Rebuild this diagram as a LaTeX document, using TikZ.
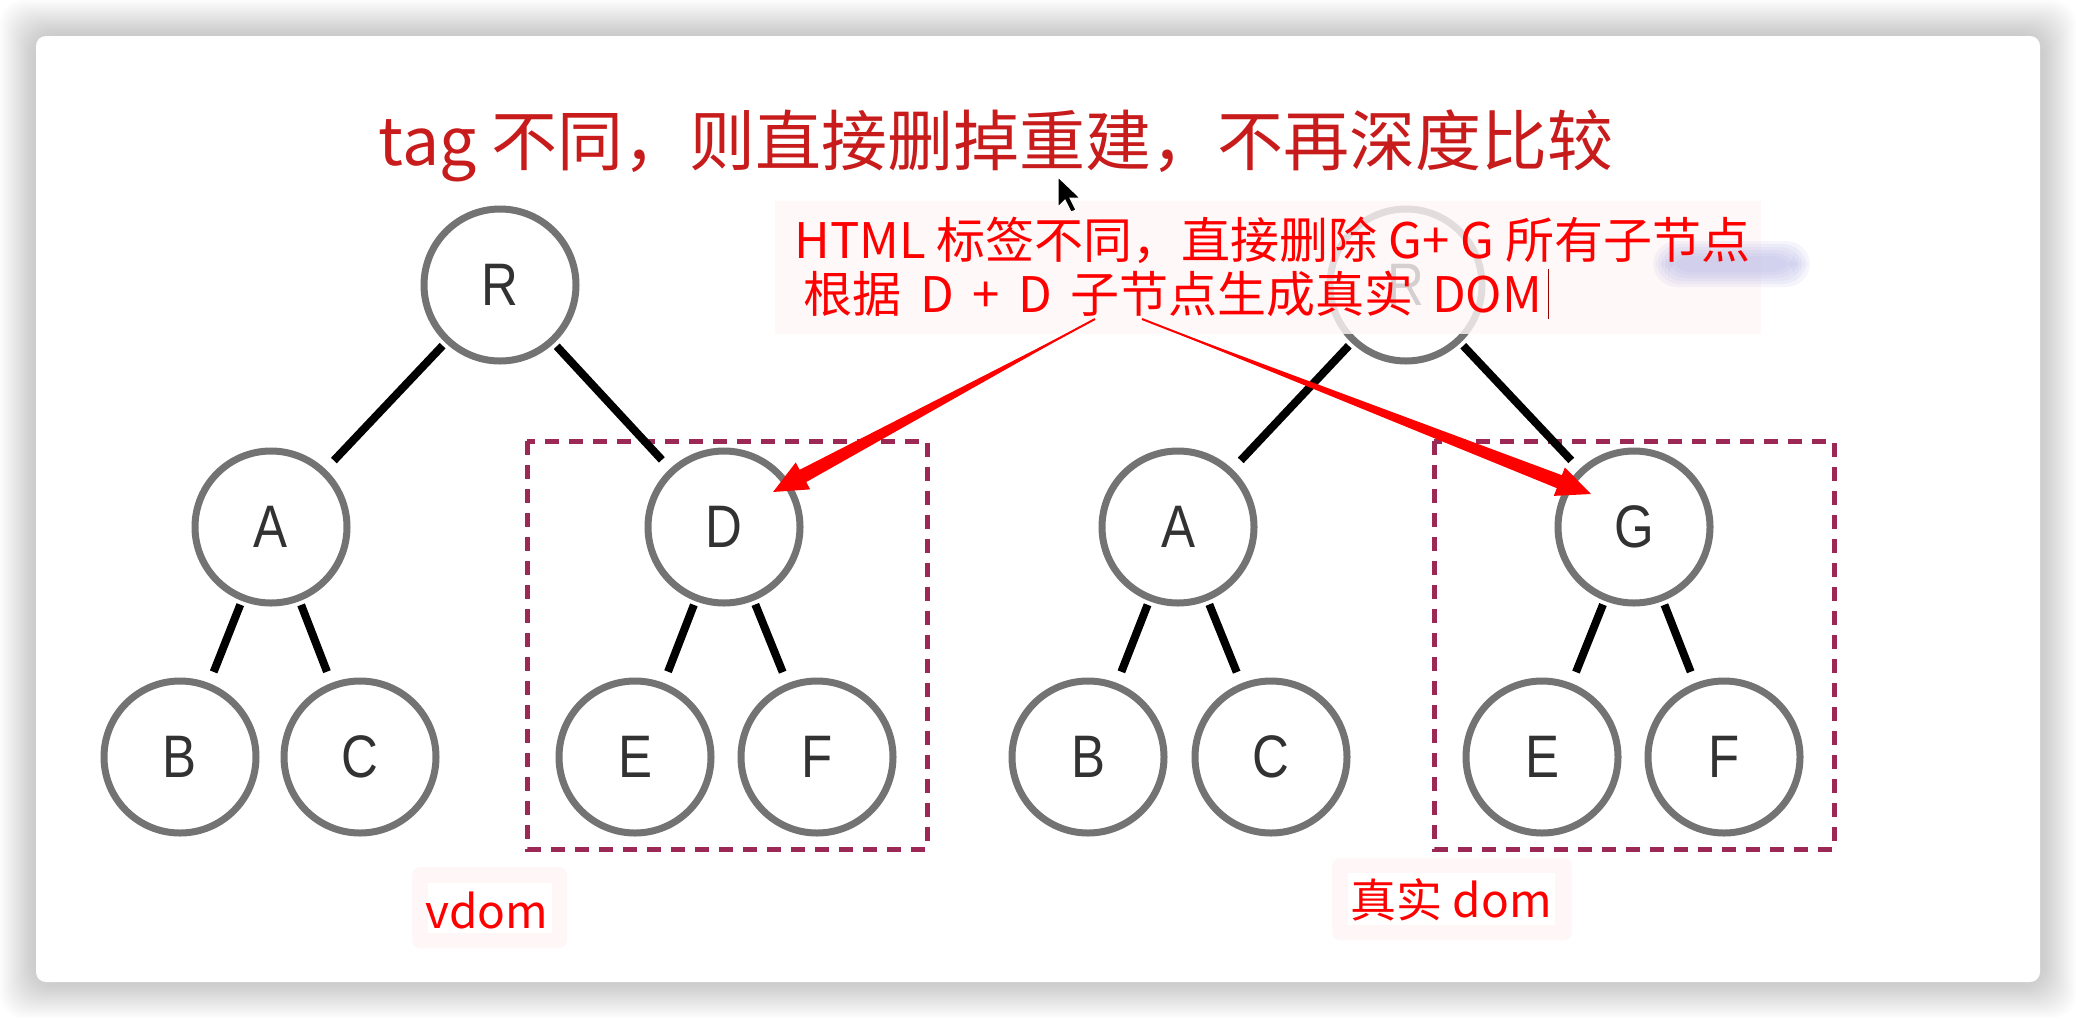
\documentclass[tikz,border=0pt]{standalone}
\usepackage{fontspec}
\usetikzlibrary{arrows.meta, calc}
\newfontfamily\cjk{Noto Sans CJK SC}
\newfontfamily\nodefont[FakeStretch=0.85]{Liberation Sans}
\definecolor{titlered}{RGB}{200,28,28}
\definecolor{boxpink}{RGB}{155,40,85}
\definecolor{ringgray}{RGB}{115,115,115}
\definecolor{lettergray}{RGB}{50,50,50}
\definecolor{blob}{RGB}{175,175,230}

\begin{document}
\begin{tikzpicture}[x=0.5pt, y=-0.5pt,
    node/.style={circle, draw=ringgray, line width=3.5pt, minimum size=76pt, inner sep=0pt, fill=white, text=lettergray, font=\nodefont\fontsize{30}{30}\selectfont},
    link/.style={line width=4pt, black, shorten <=2pt, shorten >=6pt},
    subtree/.style={draw=boxpink, line width=2.5pt, dash pattern=on 7pt off 5pt},
    note/.style={text=red, inner sep=1pt, font=\cjk\fontsize{24.5}{30}\selectfont},
    domlabel/.style={text=red, inner sep=1pt, font=\cjk\fontsize{23}{28}\selectfont},
    message/.style={red, line width=1pt, -{Triangle[length=17pt, width=15pt]}}
]
\useasboundingbox (0,0) rectangle (2076,1018);

% Karte mit Schatten
\foreach \s in {2,4,...,36}
  \fill[black, opacity=0.012, rounded corners=12pt] (36-\s,36-\s) rectangle (2040+\s,982+\s);
\fill[white, rounded corners=5pt] (36,36) rectangle (2040,982);

% Titel
\node[text=titlered, font=\cjk\fontsize{33}{40}\selectfont] (title) at (996,146) {tag 不同，则直接删掉重建，不再深度比较};

% Teilbaeume
\draw[subtree] (527,441) rectangle (927,849);
\draw[subtree] (1434,441) rectangle (1834,849);

% vdom
\node[node] (rL) at (500,285) {R};
\node[node] (aL) at (271,527) {A};
\node[node] (dL) at (724,527) {D};
\node[node] (bL) at (180,757) {B};
\node[node] (cL) at (360,757) {C};
\node[node] (eL) at (635,757) {E};
\node[node] (fL) at (817,757) {F};

\draw[link] (rL) -- (aL);
\draw[link] (rL) -- (dL);
\draw[link] (aL) -- (bL);
\draw[link] (aL) -- (cL);
\draw[link] (dL) -- (eL);
\draw[link] (dL) -- (fL);

% echter DOM
\node[node] (rR) at (1406,285) {R};
\node[node] (aR) at (1178,527) {A};
\node[node] (gR) at (1634,527) {G};
\node[node] (bR) at (1088,757) {B};
\node[node] (cR) at (1271,757) {C};
\node[node] (eR) at (1542,757) {E};
\node[node] (fR) at (1724,757) {F};

\draw[link] (rR) -- (aR);
\draw[link] (rR) -- (gR);
\draw[link] (aR) -- (bR);
\draw[link] (aR) -- (cR);
\draw[link] (gR) -- (eR);
\draw[link] (gR) -- (fR);

% Hinweis
\fill[red!3, fill opacity=0.8] (775,201) rectangle (1761,334);
\foreach \w in {0,3,...,15}
  \fill[blob, opacity=0.12, rounded corners=12pt] (1668-\w,256-\w) rectangle (1795+\w,272+\w);
\node[note, anchor=west] (line1) at (792,240) {HTML 标签不同，直接删除 G+ G 所有子节点};
\node[note, anchor=west] (line2) at (801,294) {\spaceskip=0.38em 根据 D + D 子节点生成真实 DOM};
\draw[red!60!black, line width=0.6pt] ($(line2.east)+(4,-25)$) -- ($(line2.east)+(4,25)$);

\coordinate (s1) at (1095,319);
\coordinate (t1) at (773,492);
\coordinate (s2) at (1142,319);
\coordinate (t2) at (1591,494);
\coordinate (h1) at ($(t1)!16pt!(s1)$);
\coordinate (h2) at ($(t2)!16pt!(s2)$);
\fill[red] (s1) -- ($(h1)!3.5pt!90:(s1)$) -- ($(h1)!3.5pt!-90:(s1)$) -- cycle;
\fill[red] (s2) -- ($(h2)!3.5pt!90:(s2)$) -- ($(h2)!3.5pt!-90:(s2)$) -- cycle;
\draw[message] (s1) -- (t1);
\draw[message] (s2) -- (t2);

% Beschriftung
\fill[red!3, rounded corners=4pt] (412,867) rectangle (567,948);
\fill[white] (428,883) rectangle (552,933);
\node[domlabel] (vdom) at (487,910) {vdom};
\fill[red!3, rounded corners=4pt] (1332,858) rectangle (1572,940);
\fill[white] (1348,873) rectangle (1555,925);
\node[domlabel] (realdom) at (1451,900) {真实 dom};

% Mauszeiger
\fill[black, draw=white, line width=0.5pt] (1058,177) -- ++(0,30) -- ++(7,-7) -- ++(6,12) -- ++(5,-2) -- ++(-6,-12) -- ++(10,0) -- cycle;
\end{tikzpicture}
\end{document}
